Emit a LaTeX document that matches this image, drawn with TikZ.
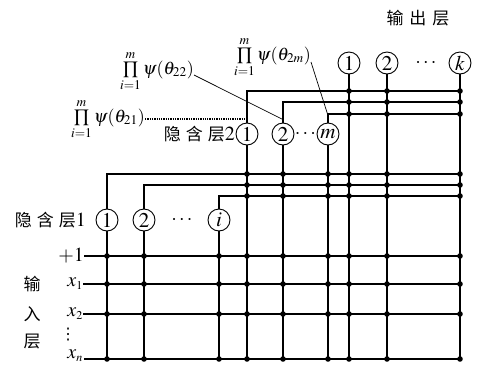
\documentclass[tikz,border=0pt]{standalone}
\usepackage{mathptmx}
\usepackage{fontspec}
\setmainfont{Liberation Serif}
\newfontfamily\cjk{Noto Sans CJK SC}
\newfontfamily\dv{DejaVu Sans}
\begin{document}
\begin{tikzpicture}[x=1pt,y=-1pt,
  wire/.style={line width=1.1pt},
  neuron/.style={circle,draw,line width=0.9pt,minimum size=22pt,inner sep=0pt,font=\fontsize{21}{21}\selectfont},
  lbl/.style={font=\fontsize{20}{20}\selectfont,inner sep=0pt},
  plbl/.style={font=\fontsize{18}{18}\selectfont,inner sep=0pt},
  cn/.style={font=\cjk\fontsize{17}{17}\selectfont,inner sep=0pt},
  dotc/.style={fill=black}]
\useasboundingbox (0,0) rectangle (477,365);

% output layer
\node[cn] (tout) at (418,18) {输\hspace{6pt}出\hspace{6pt}层};
\node[neuron] (o1) at (349,63) {$1$};
\node[neuron] (o2) at (387,63) {$2$};
\node[neuron] (ok) at (460,63) {$k$};
\node[lbl] (odots) at (426,63) {$\cdots$};

% hidden layer 2
\node[neuron] (h1) at (247,134) {$1$};
\node[neuron] (h2) at (283,134) {$2$};
\node[neuron] (hm) at (328,134) {$m$};
\node[lbl] (hdots) at (305.5,134) {$\cdots$};
\node[cn,anchor=east] (th2) at (235,134) {隐\hspace{5pt}含\hspace{5pt}层\fontsize{20}{20}\selectfont $2$};

% hidden layer 1
\node[neuron] (g1) at (107,220) {$1$};
\node[neuron] (g2) at (144,220) {$2$};
\node[neuron] (gi) at (219,220) {$i$};
\node[lbl] (gdots) at (182,220) {$\cdots$};
\node[cn,anchor=east] (th1) at (86,220) {隐\hspace{5pt}含\hspace{5pt}层\fontsize{20}{20}\selectfont $1$};

% input layer labels
\node[lbl,anchor=east] (lp) at (84,256) {$+1$};
\node[lbl,anchor=east] (lx1) at (83,284) {$x_{\scriptscriptstyle 1}$};
\node[lbl,anchor=east] (lx2) at (83,314) {$x_{\scriptscriptstyle 2}$};
\node[font=\dv\fontsize{16}{16}\selectfont,inner sep=0pt] (vd) at (68,335) {⋮};
\node[lbl,anchor=east] (lxn) at (83,356) {$x_{\scriptscriptstyle n}$};
\coordinate (rn) at (84,359);
\node[cn] (ti1) at (32,284) {输};
\node[cn] (ti2) at (32,314) {入};
\node[cn] (ti3) at (32,342) {层};

% product labels
\node[plbl,anchor=east] (p21) at (145,119) {$\prod\limits_{i=1}^{m}\psi(\theta_{21})$};
\node[plbl,anchor=east] (p22) at (194,71) {$\prod\limits_{i=1}^{m}\psi(\theta_{22})$};
\node[plbl,anchor=east] (p2m) at (311,57) {$\prod\limits_{i=1}^{m}\psi(\theta_{2m})$};

\coordinate (t1) at (460,91);
\coordinate (t2) at (460,102);
\coordinate (t3) at (460,114);
\coordinate (m1) at (460,174);
\coordinate (m2) at (460,185);
\coordinate (m3) at (460,196);

% input rows
\foreach \n in {lp,lx1,lx2,rn}
  \draw[wire] (\n.east) -- (\n.east -| ok);

% verticals down to x_n row
\foreach \n in {g1,g2,gi,h1,h2,hm,o1,o2,ok}
  \draw[wire] (\n.south) -- (\n.south |- rn);

% hidden layer 1 outputs
\draw[wire] (g1.north) |- (m1);
\draw[wire] (g2.north) |- (m2);
\draw[wire] (gi.north) |- (m3);

% hidden layer 2 outputs
\draw[wire] (h1.north) |- (t1);
\draw[wire] (h2.north) |- (t2);
\draw[wire] (hm.north) |- (t3);

% product connectors
\draw[line width=1.3pt,densely dotted] (p21.east) -- (p21.east -| h1);
\draw[line width=0.7pt] ([yshift=-4pt]p22.east) -- ([yshift=3pt]h2.north);
\draw[line width=0.7pt] ([yshift=-5pt]p2m.east) -- ([yshift=7pt]hm.north);

% junction dots
\foreach \y in {256,284,314,359}
  \foreach \x in {107,144,219,247,283,328,349,387,460}
    \fill[dotc] (\x,\y) circle[radius=2.8pt];
\foreach \y in {174,185,196}
  \foreach \x in {247,283,328,349,387,460}
    \fill[dotc] (\x,\y) circle[radius=2.8pt];
\foreach \y in {91,102,114}
  \foreach \x in {349,387,460}
    \fill[dotc] (\x,\y) circle[radius=2.8pt];
\end{tikzpicture}
\end{document}
